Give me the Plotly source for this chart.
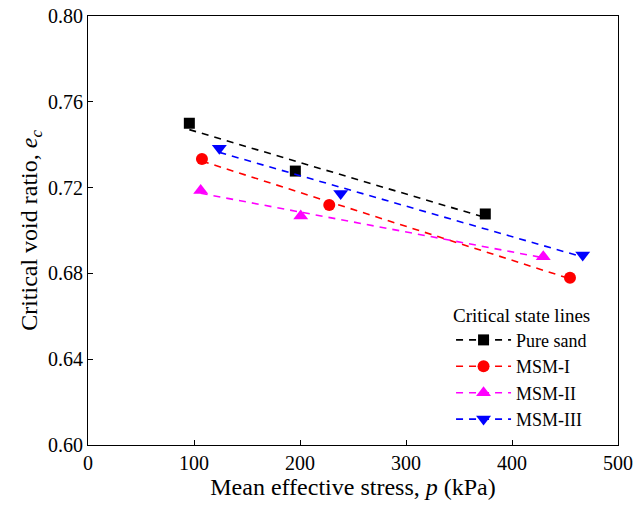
import numpy as np
import plotly.graph_objects as go

series_names = ["Pure sand", "MSM-I", "MSM-II", "MSM-III"]
p_pure = [95.6, 195.6, 374.8]
e_pure = [0.7500, 0.7277, 0.7077]
p_msm1 = [107.5, 227.6, 454.7]
e_msm1 = [0.7333, 0.7119, 0.6780]
p_msm2 = [106.3, 200.7, 429.5]
e_msm2 = [0.7186, 0.7068, 0.6878]
p_msm3 = [123.9, 238.4, 466.7]
e_msm3 = [0.7383, 0.7173, 0.6886]

colors = ["#000000", "#ff0000", "#ff00ff", "#0000ff"]
symbols = ["square", "circle", "triangle-up", "triangle-down"]
msizes = [11, 12, 13, 13]

xs = [p_pure, p_msm1, p_msm2, p_msm3]
ys = [e_pure, e_msm1, e_msm2, e_msm3]

FONT = "Liberation Serif"
fig = go.Figure()

for name, x, y, c, s, ms in zip(series_names, xs, ys, colors, symbols, msizes):
    k, b = np.polyfit(x, y, 1)
    fx = [min(x), max(x)]
    fy = [k * v + b for v in fx]
    fig.add_trace(go.Scatter(x=fx, y=fy, mode="lines", showlegend=False,
                             line=dict(color=c, width=1.6, dash="7px,6px"), hoverinfo="skip"))
    fig.add_trace(go.Scatter(x=x, y=y, mode="markers", showlegend=False, name=name,
                             marker=dict(color=c, symbol=s, size=ms, line=dict(width=0))))
    fig.add_trace(go.Scatter(x=[None], y=[None], mode="lines+markers", name=name,
                             line=dict(color=c, width=1.6, dash="7px,6px"),
                             marker=dict(color=c, symbol=s, size=ms, line=dict(width=0))))

axis_common = dict(showline=True, linecolor="black", linewidth=1.2, mirror=True,
                   ticks="inside", ticklen=5, tickwidth=1, tickcolor="black",
                   showgrid=False, zeroline=False, automargin=False,
                   tickfont=dict(family=FONT, size=20, color="black"))

fig.update_xaxes(range=[0, 500], tickvals=[0, 100, 200, 300, 400, 500],
                 title=dict(text="Mean effective stress, <i>p</i> (kPa)",
                            font=dict(family=FONT, size=24, color="black"), standoff=2),
                 **axis_common)
fig.update_yaxes(range=[0.60, 0.80], tickvals=[0.60, 0.64, 0.68, 0.72, 0.76, 0.80],
                 tickformat=".2f",
                 title=dict(text="Critical void ratio, <i>e<sub>c</sub></i>",
                            font=dict(family=FONT, size=24, color="black"), standoff=3),
                 **axis_common)

fig.update_layout(
    width=635, height=510,
    margin=dict(l=88, r=17, t=16, b=65, autoexpand=False),
    plot_bgcolor="white", paper_bgcolor="white",
    font=dict(family=FONT, color="black"),
    legend=dict(x=0.685, xanchor="left", y=0.345, yanchor="top",
                bgcolor="rgba(0,0,0,0)", borderwidth=0, itemwidth=55,
                title=dict(text="Critical state lines", font=dict(family=FONT, size=19)),
                font=dict(family=FONT, size=18, color="black"),
                tracegroupgap=0),
)

fig.write_html("out.html")
